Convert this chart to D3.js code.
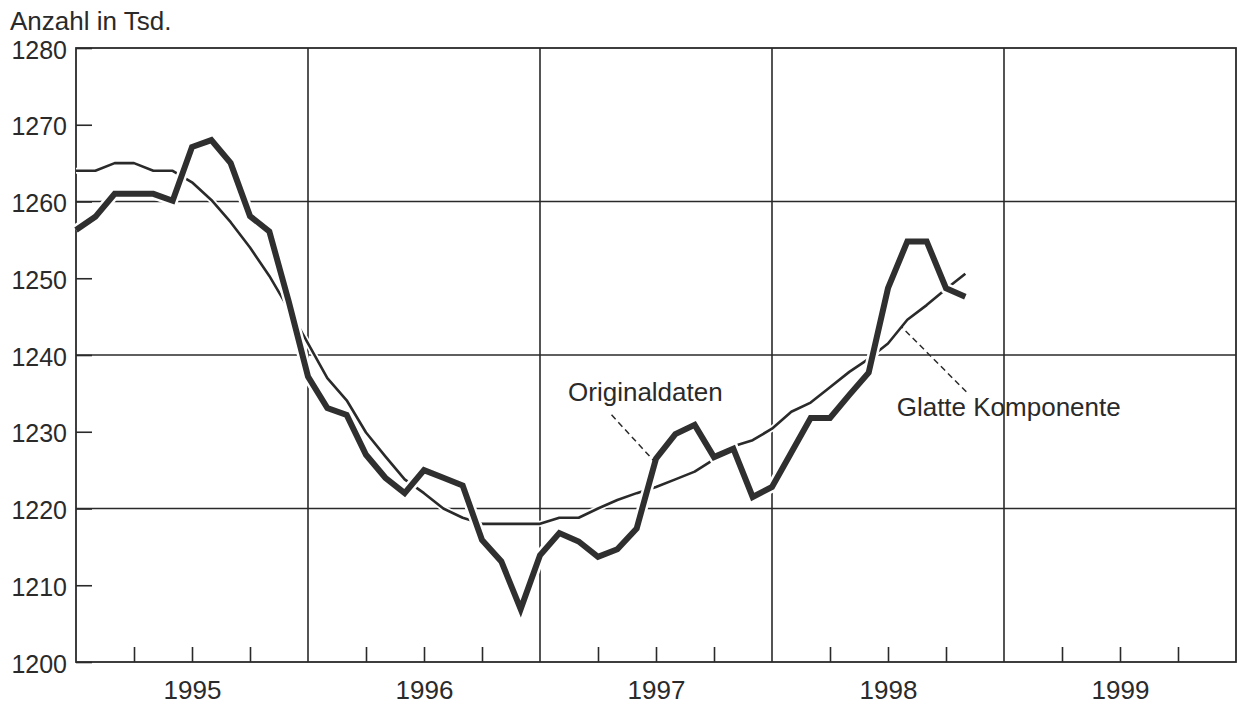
<!DOCTYPE html>
<html>
<head>
<meta charset="utf-8">
<script src="https://cdn.jsdelivr.net/npm/d3@7"></script>
<style>
	body { margin: 0; background: #fff; }
	text { font-family: "Liberation Sans", Arial, sans-serif; fill: #2a2a2a; }
	.axis path { display: none; }
	.axis line { stroke: #2a2a2a; stroke-width: 1.6; }
	.axis text { font-size: 26px; }
	.axis--y text { font-size: 25px; }
</style>
</head>
<body>
<svg id="chart"></svg>
<script>
/* Data: monthly values from January 1995, in thousands */

var years = [1995, 1996, 1997, 1998, 1999];

var originaldaten = [
	1256.3, 1258.0, 1261.0, 1261.0, 1261.0, 1260.1, 1267.1, 1268.0, 1265.0, 1258.1, 1256.1, 1247.0,
	1237.2, 1233.1, 1232.2, 1227.0, 1224.0, 1222.0, 1225.0, 1224.0, 1223.0, 1215.9, 1213.1, 1206.9,
	1213.9, 1216.8, 1215.7, 1213.7, 1214.7, 1217.4, 1226.5, 1229.7, 1230.9, 1226.7, 1227.8, 1221.5,
	1222.8, 1227.3, 1231.8, 1231.8, 1234.8, 1237.7, 1248.7, 1254.8, 1254.8, 1248.7, 1247.6
];

var glatteKomponente = [
	1264.0, 1264.0, 1265.0, 1265.0, 1264.0, 1264.0, 1262.5, 1260.2, 1257.3, 1254.0, 1250.3, 1246.0,
	1241.5, 1237.0, 1234.1, 1229.9, 1226.8, 1223.8, 1222.0, 1220.0, 1218.8, 1218.0, 1218.0, 1218.0,
	1218.0, 1218.8, 1218.8, 1220.0, 1221.1, 1222.0, 1222.8, 1223.8, 1224.8, 1226.4, 1228.1, 1228.9,
	1230.4, 1232.6, 1233.8, 1235.8, 1237.8, 1239.5, 1241.5, 1244.6, 1246.5, 1248.6, 1250.6
];

var yTicks = [1200, 1210, 1220, 1230, 1240, 1250, 1260, 1270, 1280];
var yGrid = [1220, 1240, 1260];

/* Layout */

var W = 1241, H = 711;
var margin = {top: 48, right: 5, bottom: 49, left: 76},
	width = W - margin.left - margin.right,
	height = H - margin.top - margin.bottom;

var svg = d3.select("#chart")
	.attr("width", W)
	.attr("height", H);

var g = svg.append("g")
	.attr("transform", "translate(" + margin.left + "," + margin.top + ")");

// x in months since Jan 1995
var x = d3.scaleLinear()
	.domain([0, years.length * 12])
	.range([0, width]);

var y = d3.scaleLinear()
	.domain([1200, 1280])
	.range([height, 0]);

/* Grid */

g.append("g").selectAll("line")
	.data(yGrid)
	.enter().append("line")
	.attr("x1", 0)
	.attr("x2", width)
	.attr("y1", function(d){ return y(d); })
	.attr("y2", function(d){ return y(d); })
	.attr("stroke", "#2a2a2a")
	.attr("stroke-width", 1.6);

g.append("g").selectAll("line")
	.data(d3.range(1, years.length))
	.enter().append("line")
	.attr("x1", function(d){ return x(d * 12); })
	.attr("x2", function(d){ return x(d * 12); })
	.attr("y1", 0)
	.attr("y2", height)
	.attr("stroke", "#2a2a2a")
	.attr("stroke-width", 1.6);

/* Axes */

g.append("g")
	.attr("class", "axis axis--y")
	.call(d3.axisLeft(y)
		.tickValues(yTicks)
		.tickSize(-16)
		.tickPadding(9)
		.tickFormat(d3.format("d")))
	.selectAll("text")
	.attr("dy", "0.4em");

var quarterTicks = d3.range(0, years.length * 12 + 1, 3).filter(function(d){ return d % 12 != 0; });

g.append("g")
	.attr("class", "axis axis--x")
	.attr("transform", "translate(0," + height + ")")
	.call(d3.axisBottom(x)
		.tickValues(quarterTicks)
		.tickSize(-15)
		.tickFormat(""));

g.append("g")
	.attr("class", "axis axis--years")
	.attr("transform", "translate(0," + height + ")")
	.call(d3.axisBottom(x)
		.tickValues(years.map(function(d, i){ return i * 12 + 6; }))
		.tickSize(0)
		.tickPadding(19)
		.tickFormat(function(d){ return years[(d - 6) / 12]; }));

// frame
g.append("rect")
	.attr("width", width)
	.attr("height", height)
	.attr("fill", "none")
	.attr("stroke", "#2a2a2a")
	.attr("stroke-width", 1.8);

svg.append("text")
	.attr("x", 10)
	.attr("y", 30)
	.attr("font-size", "26px")
	.text("Anzahl in Tsd.");

/* Lines */

var line = d3.line()
	.x(function(d, i){ return x(i); })
	.y(function(d){ return y(d); });

g.append("path")
	.datum(glatteKomponente)
	.attr("fill", "none")
	.attr("stroke", "#fff")
	.attr("stroke-width", 6)
	.attr("stroke-linejoin", "round")
	.attr("d", line);

g.append("path")
	.datum(glatteKomponente)
	.attr("fill", "none")
	.attr("stroke", "#2a2a2a")
	.attr("stroke-width", 2.6)
	.attr("stroke-linejoin", "round")
	.attr("d", line);

g.append("path")
	.datum(originaldaten)
	.attr("fill", "none")
	.attr("stroke", "#fff")
	.attr("stroke-width", 11)
	.attr("stroke-linejoin", "miter")
	.attr("d", line);

g.append("path")
	.datum(originaldaten)
	.attr("fill", "none")
	.attr("stroke", "#2f2f2f")
	.attr("stroke-width", 6)
	.attr("stroke-linejoin", "miter")
	.attr("d", line);

/* Labels with dashed leaders: "at" is the month where the leader meets its line */

var labels = [
	{text: "Originaldaten", series: originaldaten, at: 29.95, tx: 25.45, ty: 1234.0, lx: 27.7, ly: 1232.2},
	{text: "Glatte Komponente", series: glatteKomponente, at: 42.7, tx: 42.45, ty: 1232.0, lx: 46.05, ly: 1235.2}
];

function valueAt(series, m) {
	var i0 = Math.floor(m), i1 = Math.ceil(m);
	return series[i0] + (series[i1] - series[i0]) * (m - i0);
}

labels.forEach(function(l){
	g.append("line")
		.attr("x1", x(l.lx))
		.attr("y1", y(l.ly))
		.attr("x2", x(l.at))
		.attr("y2", y(valueAt(l.series, l.at)))
		.attr("stroke", "#2a2a2a")
		.attr("stroke-width", 1.5)
		.attr("stroke-dasharray", "6,4");

	g.append("text")
		.attr("x", x(l.tx))
		.attr("y", y(l.ty))
		.attr("font-size", "26px")
		.text(l.text);
});
</script>
</body>
</html>
